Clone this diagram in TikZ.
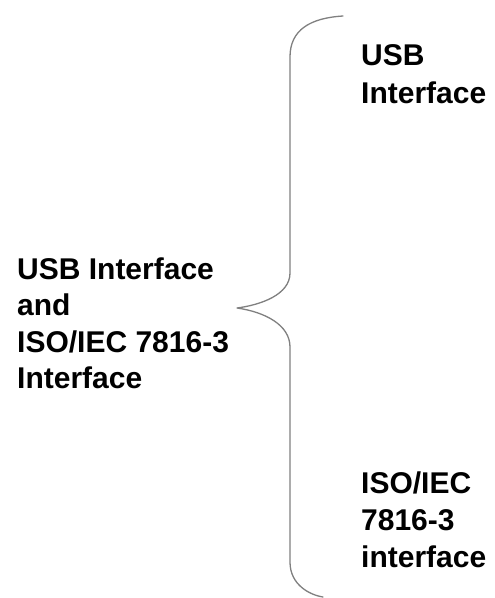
\documentclass[tikz,border=0pt]{standalone}
\usepackage{fontspec}
\setmainfont{Liberation Sans}
\begin{document}
\begin{tikzpicture}[x=1pt,y=-1pt,
  lbl/.style={anchor=base west,inner sep=0pt,font=\bfseries\fontsize{30}{37}\selectfont},
  brace/.style={draw=black!50,line width=1.3pt,line cap=round,line join=round}]
\useasboundingbox[fill=white] (0,0) rectangle (495,598);
% brace
\path[brace] (343,16) .. controls (310,18) and (290,30) .. (290,57)
  -- (290,273) .. controls (290,295) and (260,305) .. (237,308)
  .. controls (265,312) and (290,325) .. (290,347)
  -- (290,562) .. controls (290,585) and (310,595) .. (323,597);
% left label
\node[lbl] (l1) at (17,279) {USB Interface};
\node[lbl] (l2) at (17,315.5) {and};
\node[lbl] (l3) at (17,352) {ISO/IEC 7816-3};
\node[lbl] (l4) at (17,388.5) {Interface};
% right top label
\node[lbl] (r1) at (361,65) {USB};
\node[lbl] (r2) at (361,103) {Interface};
% right bottom label
\node[lbl] (s1) at (361,493) {ISO/IEC};
\node[lbl] (s2) at (361,530) {7816-3};
\node[lbl] (s3) at (361,567) {interface};
\end{tikzpicture}
\end{document}
